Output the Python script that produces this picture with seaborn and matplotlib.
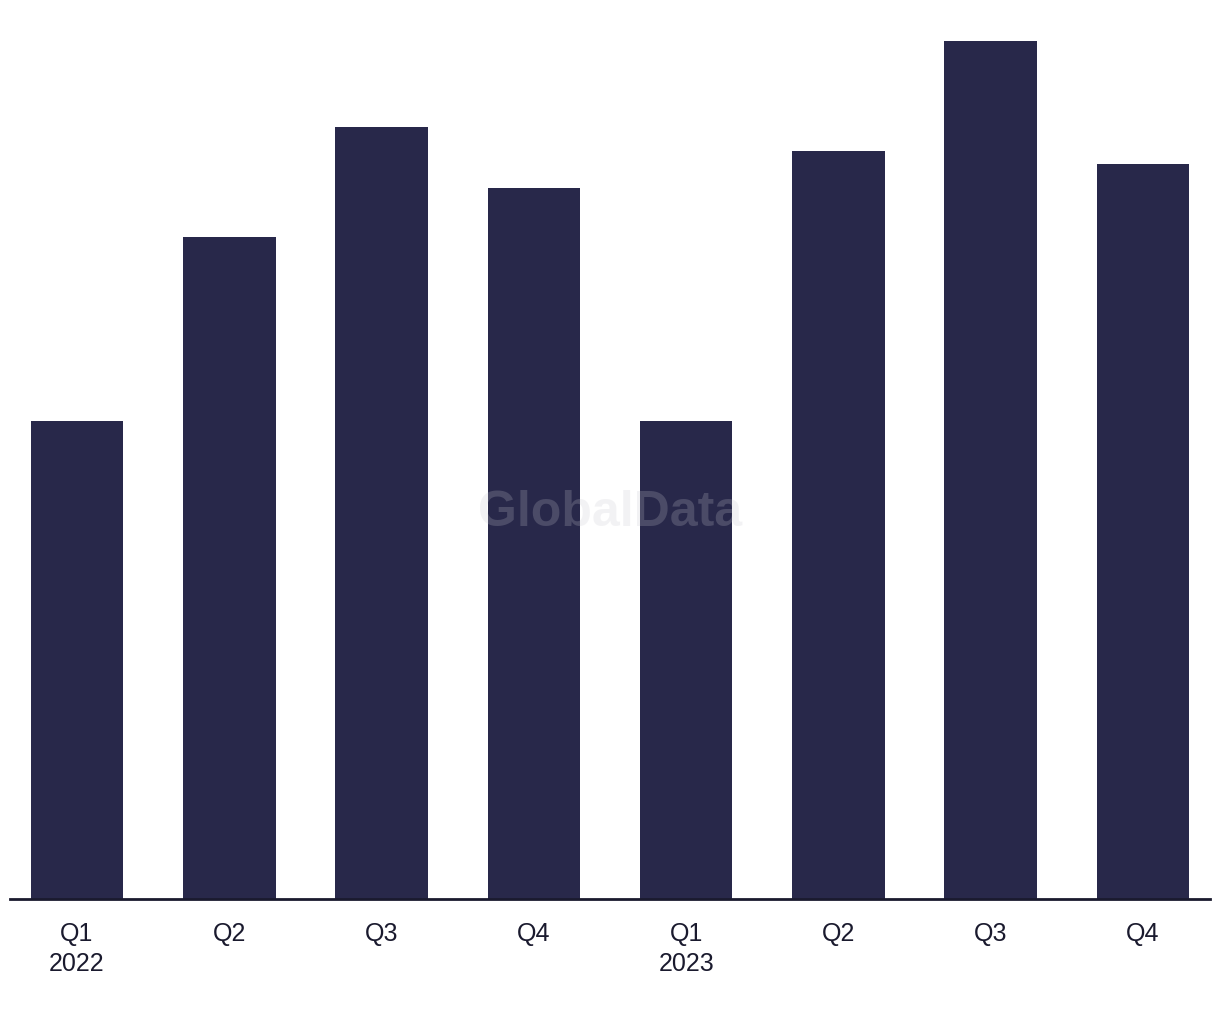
import matplotlib
matplotlib.use("Agg")
import matplotlib.pyplot as plt
import seaborn as sns
import pandas as pd

quarters = ["Q1\n2022", "Q2", "Q3", "Q4", "Q1\n2023", "Q2 ", "Q3 ", "Q4 "]
values = [39, 54, 63, 58, 39, 61, 70, 60]

sns.set_theme(style="white")
plt.rcParams['font.family'] = ['Liberation Sans', 'DejaVu Sans']

df = pd.DataFrame({"quarter": quarters, "value": values})

fig = plt.figure(figsize=(12.2, 10.2), dpi=100)
ax = fig.add_axes([10/1220, 120/1020, 1200/1220, (900-42)/1020])

bar_color = "#28284a"
sns.barplot(data=df, x="quarter", y="value", color=bar_color, width=0.607,
            saturation=1, ax=ax, edgecolor="none")

ax.set_xlim(-0.44, 7.44)
ax.set_ylim(0, 70)
for b in ax.patches:
    b.set_clip_on(False)

for s in ["top", "right", "left"]:
    ax.spines[s].set_visible(False)
ax.spines["bottom"].set_color("#1a1a2e")
ax.spines["bottom"].set_linewidth(2)
ax.set_yticks([])
ax.set_xlabel("")
ax.set_ylabel("")
ax.set_xticks(range(len(quarters)))
ax.set_xticklabels([q.strip() if "\n" not in q else q for q in quarters],
                   fontsize=18, color="#1a1a2e", linespacing=1.3)
ax.tick_params(axis="x", length=0, pad=16)

fig.text(610/1220, 1 - 513/1020, "GlobalData", ha="center", va="center",
         fontsize=36, fontweight="bold", color="#c8c8d0", alpha=0.22,
         zorder=10, family=["Liberation Sans", "DejaVu Sans"])

fig.savefig("out.png", dpi=100, facecolor="white")
